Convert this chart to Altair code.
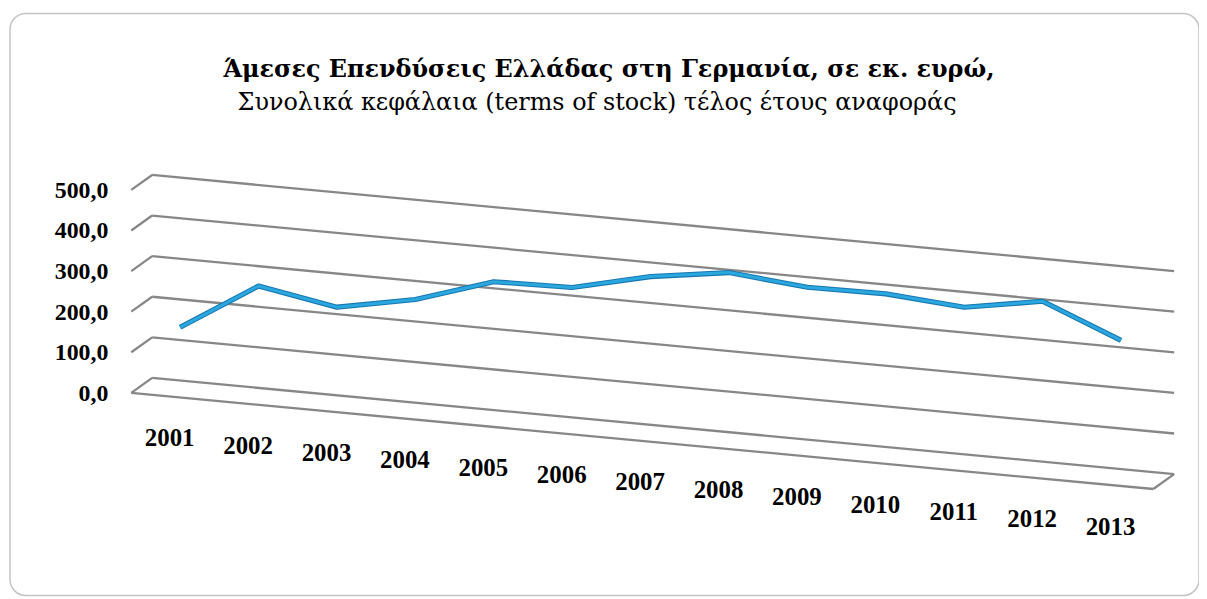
import altair as alt
import pandas as pd

# ---------------- data ----------------
years = ["2001", "2002", "2003", "2004", "2005", "2006", "2007",
         "2008", "2009", "2010", "2011", "2012", "2013"]
values = [152, 272, 238, 275, 337, 341, 386, 414, 396, 398, 383, 416, 338]
tick_values = [0, 100, 200, 300, 400, 500]
tick_labels = ["0,0", "100,0", "200,0", "300,0", "400,0", "500,0"]
title_lines = ["Άμεσες Επενδύσεις Ελλάδας στη Γερμανία, σε εκ. ευρώ,",
               "Συνολικά κεφάλαια (terms of stock) τέλος έτους αναφοράς"]

# ------------- 3D (oblique) projection of category/value/depth -------------
U_LEFT, U_RIGHT = -0.49, 12.545      # wall extent in category units
DEPTH_X, DEPTH_Y = 0.1332, 18.38     # screen shift per half depth (back = +1)
SHEAR = 18.17                        # vertical drop per category step


def proj(u, v, f):
    return u + DEPTH_X * f, v - SHEAR * u + DEPTH_Y * f


# gridlines on back wall, side-wall diagonals, floor edges
segs = []
for v in tick_values:
    segs.append((U_LEFT, v, 1, U_RIGHT, v, 1))
    segs.append((U_LEFT, v, 1, U_LEFT, v, -1))
segs.append((U_LEFT, 0, -1, U_RIGHT, 0, -1))
segs.append((U_RIGHT, 0, 1, U_RIGHT, 0, -1))
seg_rows = []
for u1, v1, f1, u2, v2, f2 in segs:
    x1, y1 = proj(u1, v1, f1)
    x2, y2 = proj(u2, v2, f2)
    seg_rows.append({"x": x1, "y": y1, "x2": x2, "y2": y2})
grid_df = pd.DataFrame(seg_rows)

line_rows = []
for i, (yr, val) in enumerate(zip(years, values)):
    sx, sy = proj(i, val, 0)
    line_rows.append({"year": yr, "value": val, "sx": sx, "sy": sy})
line_df = pd.DataFrame(line_rows)

xlab_rows = []
for i, yr in enumerate(years):
    sx, sy = proj(i, 0, -1)
    xlab_rows.append({"label": yr, "sx": sx, "sy": sy})
xlab_df = pd.DataFrame(xlab_rows)

ylab_rows = []
for v, lab in zip(tick_values, tick_labels):
    sx, sy = proj(U_LEFT, v, -1)
    ylab_rows.append({"label": lab, "sx": sx, "sy": sy})
ylab_df = pd.DataFrame(ylab_rows)

title_df = pd.DataFrame({"t1": [title_lines[0]], "t2": [title_lines[1]]})

W, H = 1195, 585
xs = alt.Scale(domain=[-2.1701, 12.9949], nice=False, zero=False)
ys = alt.Scale(domain=[-508.70, 925.12], nice=False, zero=False)
FONT = "Liberation Serif"
TFONT = "DejaVu Serif"

grid = alt.Chart(grid_df).mark_rule(color="#878787", strokeWidth=2.3).encode(
    x=alt.X("x:Q", scale=xs, axis=None),
    y=alt.Y("y:Q", scale=ys, axis=None),
    x2="x2:Q", y2="y2:Q")

line_under = alt.Chart(line_df).mark_line(color="#1877ad", strokeWidth=5.2,
                                          strokeJoin="round").encode(
    x=alt.X("sx:Q", scale=xs, axis=None),
    y=alt.Y("sy:Q", scale=ys, axis=None),
    order="sx:Q")
line_top = alt.Chart(line_df).mark_line(color="#2ba7e0", strokeWidth=3,
                                        strokeJoin="round").encode(
    x=alt.X("sx:Q", scale=xs, axis=None),
    y=alt.Y("sy:Q", scale=ys, axis=None),
    order="sx:Q")

xlabels = alt.Chart(xlab_df).mark_text(font=FONT, fontSize=25, fontWeight="bold",
                                       align="center", baseline="middle",
                                       dy=42, color="black").encode(
    x=alt.X("sx:Q", scale=xs, axis=None),
    y=alt.Y("sy:Q", scale=ys, axis=None),
    text="label:N")

ylabels = alt.Chart(ylab_df).mark_text(font=FONT, fontSize=24, fontWeight="bold",
                                       align="right", baseline="middle",
                                       dx=-23, dy=1, color="black").encode(
    x=alt.X("sx:Q", scale=xs, axis=None),
    y=alt.Y("sy:Q", scale=ys, axis=None),
    text="label:N")

t1 = alt.Chart(title_df).mark_text(font=TFONT, fontSize=24, fontWeight="bold",
                                   align="center", baseline="alphabetic",
                                   color="black").encode(
    x=alt.value(602), y=alt.value(64), text="t1:N")
t2 = alt.Chart(title_df).mark_text(font=TFONT, fontSize=24, fontWeight="normal",
                                   align="center", baseline="alphabetic",
                                   color="black").encode(
    x=alt.value(590), y=alt.value(97), text="t2:N")

chart = alt.layer(grid, line_under, line_top, xlabels, ylabels, t1, t2).properties(
    width=W, height=H,
    autosize=alt.AutoSizeParams(type="none"),
    padding={"left": 2, "top": 4, "right": 0, "bottom": 0},
).configure_view(stroke="#c4c4c4", strokeWidth=1.5, cornerRadius=16)

chart.save("out.html", embed_options={"renderer": "svg", "actions": False})
